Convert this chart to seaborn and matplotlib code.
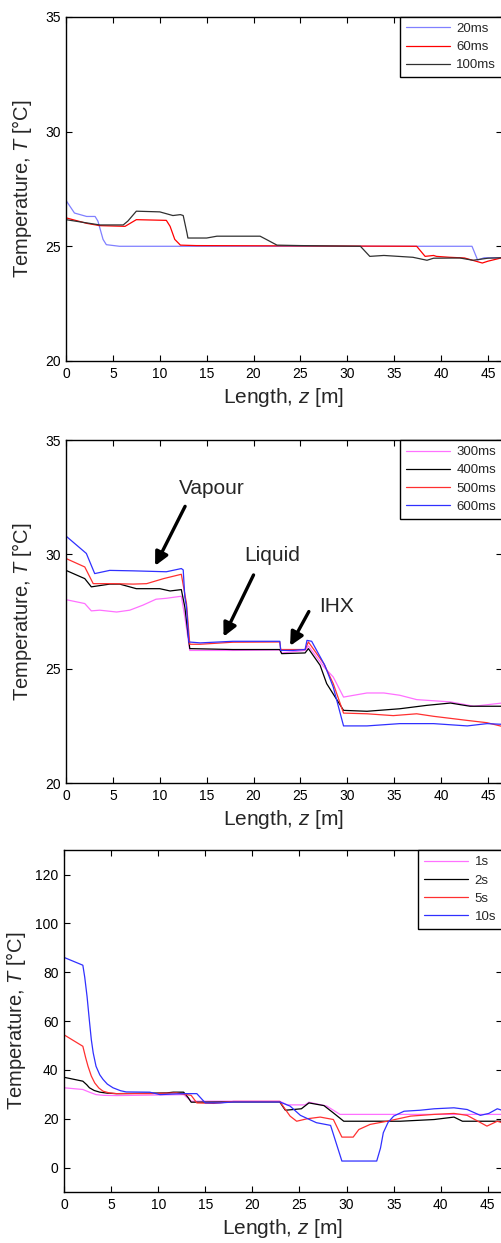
import numpy as np
import pandas as pd
import matplotlib
matplotlib.use("Agg")
import matplotlib.pyplot as plt
import seaborn as sns

# ---- panel 1: 20ms / 60ms / 100ms ----
z_20ms = [0, 0.9, 2.2, 3.1, 3.4, 3.95, 4.3, 5.7, 20, 43.3, 43.9, 44.6, 45.3, 46.5]
T_20ms = [27.0, 26.45, 26.3, 26.3, 26.1, 25.3, 25.07, 25.0, 25.0, 25.0, 24.4, 24.5, 24.5, 24.5]

z_60ms = [0, 2.2, 3.6, 6.3, 7.5, 10.7, 11.1, 11.6, 12.2, 13.9, 37.4, 38.3, 39.2, 39.5,
          40.9, 42.5, 44.4, 45.0, 46.5]
T_60ms = [26.24, 26.0, 25.9, 25.87, 26.16, 26.13, 25.87, 25.3, 25.05, 25.03, 25.0, 24.56,
          24.6, 24.56, 24.52, 24.49, 24.27, 24.35, 24.5]

z_100ms = [0, 3.6, 6.1, 6.6, 7.5, 10.0, 11.4, 12.2, 12.5, 12.9, 13.0, 15.0, 16.1, 20.7,
           21.4, 22.5, 25.0, 31.4, 32.4, 33.9, 37.0, 38.5, 39.2, 42.0, 43.4, 45.0, 46.5]
T_100ms = [26.16, 25.93, 25.93, 26.1, 26.53, 26.5, 26.34, 26.38, 26.34, 25.58, 25.36, 25.36,
           25.44, 25.44, 25.29, 25.05, 25.03, 25.0, 24.56, 24.6, 24.52, 24.39, 24.48, 24.49,
           24.39, 24.48, 24.5]

# ---- panel 2: 300ms / 400ms / 500ms / 600ms ----
z_300ms = [0, 2.0, 2.7, 3.6, 5.4, 6.8, 8.2, 9.6, 10.7, 12.3, 12.67, 13.2, 17.8, 22.8, 23.0,
           25.5, 25.85, 27.5, 28.5, 29.6, 30.7, 32.1, 33.9, 35.6, 37.4, 41.0, 43.5, 46.5]
T_300ms = [28.02, 27.85, 27.53, 27.56, 27.48, 27.56, 27.78, 28.04, 28.08, 28.17, 27.27, 25.8,
           25.8, 25.82, 25.69, 25.8, 26.0, 25.08, 24.64, 23.76, 23.84, 23.94, 23.94, 23.84,
           23.65, 23.55, 23.36, 23.5]

z_400ms = [0, 2.0, 2.7, 4.66, 5.73, 7.5, 10.0, 11.1, 12.3, 12.67, 13.2, 17.8, 22.8, 23.0,
           25.5, 25.85, 27.1, 27.8, 29.6, 32.1, 35.6, 38.5, 41.0, 43.1, 46.5]
T_400ms = [29.3, 28.94, 28.58, 28.7, 28.7, 28.5, 28.5, 28.4, 28.46, 27.7, 25.88, 25.84,
           25.84, 25.66, 25.69, 25.88, 25.15, 24.35, 23.18, 23.14, 23.25, 23.4, 23.5, 23.36,
           23.36]

z_500ms = [0, 2.0, 2.9, 5.0, 7.16, 8.6, 10.4, 12.3, 12.85, 13.2, 14.3, 17.8, 22.8, 22.9,
           25.5, 25.85, 27.5, 28.5, 29.6, 32.1, 34.9, 37.4, 39.2, 42.8, 44.9, 46.5]
T_500ms = [29.82, 29.45, 28.72, 28.72, 28.7, 28.72, 28.94, 29.13, 27.85, 26.07, 26.07, 26.16,
           26.17, 25.84, 25.84, 26.17, 25.22, 24.35, 23.06, 23.03, 22.95, 23.03, 22.92, 22.74,
           22.64, 22.48]

z_600ms = [0, 2.17, 3.06, 4.66, 7.16, 10.7, 12.3, 12.5, 12.67, 12.85, 13.1, 14.3, 17.8, 22.8,
           22.9, 24.2, 25.5, 25.7, 26.2, 27.6, 28.5, 29.6, 32.1, 35.6, 39.2, 42.8, 44.9, 46.5]
T_600ms = [30.8, 30.04, 29.16, 29.3, 29.28, 29.24, 29.38, 29.32, 28.14, 27.7, 26.17, 26.13,
           26.2, 26.2, 25.8, 25.8, 25.84, 26.24, 26.2, 25.15, 24.2, 22.5, 22.5, 22.6, 22.6,
           22.5, 22.6, 22.57]

# ---- panel 3: 1s / 2s / 5s / 10s ----
z_1s = [0, 2.0, 2.7, 3.4, 4.2, 5.57, 12.7, 13.5, 18.0, 22.9, 23.7, 25.6, 26.0, 27.9, 29.3, 46.5]
T_1s = [32.7, 32.0, 30.9, 29.9, 29.6, 29.5, 29.9, 27.2, 27.2, 27.2, 25.7, 25.7, 26.8, 25.2,
        21.8, 21.8]

z_2s = [0, 2.0, 2.4, 2.7, 3.2, 3.8, 4.6, 5.57, 10.9, 11.6, 12.7, 13.2, 13.5, 18.0, 22.9, 23.5,
        25.2, 26.0, 27.6, 28.6, 29.7, 35.7, 39.3, 41.4, 42.3, 46.5]
T_2s = [37.0, 35.4, 34.0, 32.7, 31.6, 30.9, 30.5, 30.3, 30.6, 30.9, 30.9, 28.6, 26.8, 26.9,
        26.9, 23.5, 24.1, 26.5, 25.4, 22.4, 19.0, 19.0, 19.7, 20.7, 19.0, 19.0]

z_5s = [0, 2.0, 2.3, 2.55, 2.9, 3.26, 3.7, 4.15, 4.8, 5.57, 9.1, 11.95, 13.0, 13.5, 14.1,
        15.9, 18.0, 22.9, 24.0, 24.7, 25.8, 27.2, 28.6, 29.5, 30.7, 31.3, 32.5, 34.3, 36.8,
        39.3, 41.4, 42.8, 44.9, 46.0, 46.5]
T_5s = [54.4, 49.7, 45.0, 41.5, 37.5, 34.7, 32.6, 31.3, 30.6, 30.3, 30.3, 30.6, 29.9, 29.6,
        26.5, 26.3, 27.1, 27.1, 21.1, 19.0, 20.0, 20.7, 19.7, 12.5, 12.5, 15.6, 17.7, 19.0,
        21.1, 21.8, 22.2, 21.4, 17.0, 19.0, 18.4]

z_10s = [0, 2.0, 2.2, 2.45, 2.7, 2.9, 3.1, 3.4, 3.8, 4.15, 4.6, 5.2, 6.0, 6.6, 9.1, 10.2,
         11.95, 13.0, 14.1, 15.0, 16.6, 18.0, 22.9, 24.0, 25.1, 26.8, 28.3, 29.5, 33.2, 33.6,
         33.9, 34.4, 35.0, 36.1, 37.8, 39.3, 41.4, 42.8, 44.2, 45.1, 46.0, 46.5]
T_10s = [86.1, 82.9, 78.0, 70.0, 60.0, 52.4, 47.0, 41.5, 38.0, 36.1, 34.2, 32.7, 31.5, 31.0,
         30.9, 29.9, 30.2, 30.3, 30.3, 26.5, 26.5, 26.9, 26.9, 25.2, 21.4, 18.4, 17.3, 2.7,
         2.7, 8.0, 14.3, 18.5, 21.1, 23.1, 23.5, 24.1, 24.5, 23.8, 21.4, 22.2, 24.1, 23.5]

panels = [
    {"series": [("20ms", z_20ms, T_20ms, "#8080ff"),
                ("60ms", z_60ms, T_60ms, "#ff0000"),
                ("100ms", z_100ms, T_100ms, "#303030")],
     "ylim": (20, 35), "yticks": [20, 25, 30, 35], "rect": [0.1315, 0.7096, 0.8685, 0.2768]},
    {"series": [("300ms", z_300ms, T_300ms, "#ff70ff"),
                ("400ms", z_400ms, T_400ms, "#000000"),
                ("500ms", z_500ms, T_500ms, "#ff3030"),
                ("600ms", z_600ms, T_600ms, "#3030ff")],
     "ylim": (20, 35), "yticks": [20, 25, 30, 35], "rect": [0.1315, 0.370, 0.8685, 0.276]},
    {"series": [("1s", z_1s, T_1s, "#ff70ff"),
                ("2s", z_2s, T_2s, "#000000"),
                ("5s", z_5s, T_5s, "#ff3030"),
                ("10s", z_10s, T_10s, "#3030ff")],
     "ylim": (-10, 130), "yticks": [0, 20, 40, 60, 80, 100, 120],
     "rect": [0.1275, 0.041, 0.8725, 0.275]},
]

sns.set_style("ticks")
plt.rcParams["font.family"] = ["Liberation Sans", "DejaVu Sans"]
plt.rcParams["mathtext.fontset"] = "custom"
plt.rcParams["mathtext.rm"] = "Liberation Sans"
plt.rcParams["mathtext.it"] = "Liberation Sans:italic"

fig = plt.figure(figsize=(5.02, 12.43), dpi=100)

for i, p in enumerate(panels):
    ax = fig.add_axes(p["rect"])
    for name, z, T, col in p["series"]:
        df = pd.DataFrame({"z": z, "T": T})
        sns.lineplot(data=df, x="z", y="T", color=col, label=name, lw=0.9,
                     estimator=None, sort=False, ax=ax)
    ax.set_xlim(0, 46.5)
    ax.set_ylim(*p["ylim"])
    ax.set_xticks([0, 5, 10, 15, 20, 25, 30, 35, 40, 45])
    ax.set_yticks(p["yticks"])
    ax.tick_params(direction="in", top=True, right=True, length=4, width=0.8,
                   labelsize=10, colors="black", pad=4)
    for s in ax.spines.values():
        s.set_linewidth(1.0)
        s.set_color("black")
    ax.set_xlabel("Length, $z$ [m]", fontsize=15, labelpad=4)
    ax.set_ylabel("Temperature, $T$ [°C]", fontsize=14.5, labelpad=8 if i < 2 else 5)
    leg = ax.legend(loc="upper right", borderaxespad=0, frameon=True, fancybox=False,
                    edgecolor="black", fontsize=9.5, handlelength=3.3, handletextpad=0.5,
                    borderpad=0.45, labelspacing=0.45)
    leg.get_frame().set_linewidth(1.0)
    leg.get_frame().set_alpha(1)

    if i == 1:
        arrow = dict(arrowstyle="-|>", color="black", lw=2.4, mutation_scale=20,
                     shrinkA=0, shrinkB=0)
        ax.text(15.5, 32.9, "Vapour", fontsize=15, ha="center", va="center")
        ax.annotate("", xy=(9.5, 29.5), xytext=(12.7, 32.1), arrowprops=arrow)
        ax.text(22.0, 29.95, "Liquid", fontsize=15, ha="center", va="center")
        ax.annotate("", xy=(16.8, 26.4), xytext=(20.0, 29.1), arrowprops=arrow)
        ax.text(28.9, 27.7, "IHX", fontsize=15, ha="center", va="center")
        ax.annotate("", xy=(23.9, 26.0), xytext=(25.9, 27.5), arrowprops=arrow)

fig.savefig("out.png", dpi=100, facecolor="white")
